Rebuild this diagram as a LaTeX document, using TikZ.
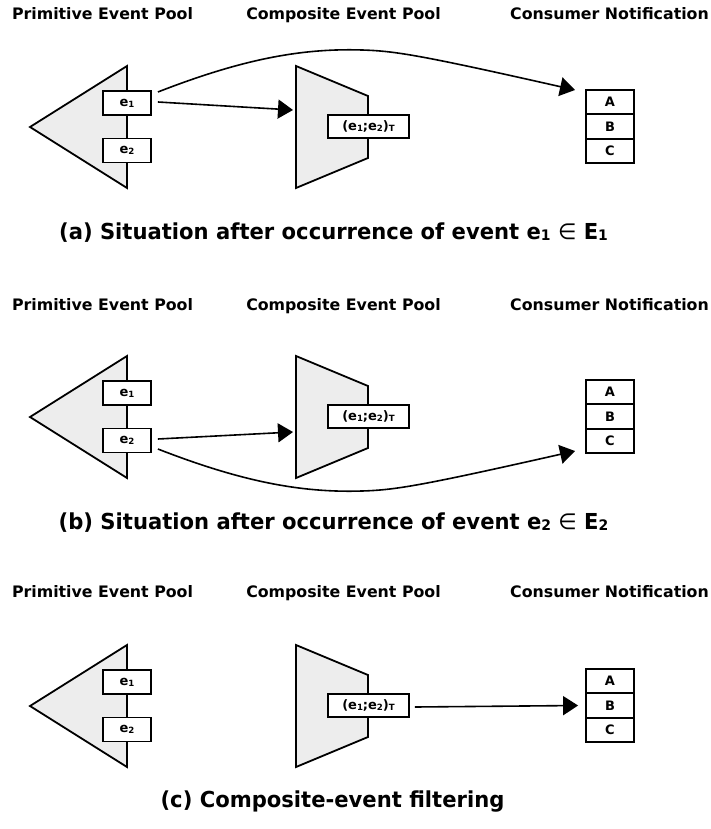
\documentclass[tikz,border=0pt]{standalone}
\usepackage{fontspec}
\setmainfont{DejaVu Sans}
\newfontfamily\capfont[FakeStretch=0.96]{DejaVu Sans}
\usetikzlibrary{arrows.meta}
\definecolor{poolgray}{HTML}{EDEDED}

% small index set on the baseline, as in e1 or T
\newcommand\lowidx[1]{\raisebox{-0.06em}{\scalebox{0.66}{#1}}}

% one row of the figure: pools, event boxes and the consumer queue
% #1 name prefix, #2 vertical offset of the shapes, #3 baseline of the headers
\newcommand\eventpanel[3]{%
  \node[header] (#1-hp) at (102.5,#3) {Primitive Event Pool};
  \node[header] (#1-hc) at (343.5,#3) {Composite Event Pool};
  \node[header] (#1-hn) at (609.5,#3) {Consumer Notification};
  \begin{scope}[shift={(0,#2)}]
    \filldraw[pool] (127,66) -- (30,127) -- (127,188) -- cycle;
    \filldraw[pool] (296,66) -- (368,96) -- (368,158) -- (296,188) -- cycle;
    \node[evbox] (#1-e1) at (127,103) {e\lowidx{1}};
    \node[evbox] (#1-e2) at (127,150.5) {e\lowidx{2}};
    \node[seqbox] (#1-seq) at (368.5,126.5) {(e\lowidx{1};e\lowidx{2})\lowidx{T}};
    \node[qbox] (#1-A) at (610,102) {A};
    \node[qbox] (#1-B) at (610,126.5) {B};
    \node[qbox] (#1-C) at (610,151) {C};
  \end{scope}
}

\begin{document}
\begin{tikzpicture}[x=1pt,y=-1pt,
  header/.style={anchor=base,inner sep=0pt,font=\bfseries\fontsize{15.8}{18}\selectfont},
  caption/.style={anchor=base,inner sep=0pt,font=\capfont\bfseries\fontsize{22}{26}\selectfont},
  pool/.style={fill=poolgray,draw=black,line width=1.8pt,line join=miter},
  evbox/.style={draw=black,fill=white,line width=1.8pt,minimum width=48pt,minimum height=24pt,
    inner sep=0pt,font=\bfseries\fontsize{13}{15}\selectfont},
  seqbox/.style={evbox,minimum width=81pt,minimum height=23pt},
  qbox/.style={evbox,minimum height=24.5pt},
  conn/.style={-{Triangle[length=15pt,width=19pt]},line width=1.6pt}]

\useasboundingbox (0,0) rectangle (710,829);

% (a) after e1
\eventpanel{a}{0}{20}
\coordinate (a-in) at (293,110);
\coordinate (a-top) at (362,50);
\coordinate (a-tip) at (575,90);
\draw[conn] ([xshift=6pt,yshift=1pt]a-e1.east) -- (a-in);
\draw[conn] ([xshift=6pt,yshift=11pt]a-e1.east) .. controls (240,60) and (300,48) .. (a-top)
  .. controls (395,51) and (420,55) .. (a-tip);
\node[caption] (a-cap) at (333.5,239) {(a) Situation after occurrence of event e\lowidx{1} {\mdseries ∈} E\lowidx{1}};

% (b) after e2
\eventpanel{b}{290}{310}
\coordinate (b-in) at (293,432);
\coordinate (b-bot) at (362,491);
\coordinate (b-tip) at (575,451);
\draw[conn] ([xshift=6pt,yshift=1.5pt]b-e2.east) -- (b-in);
\draw[conn] ([xshift=6pt,yshift=-8.5pt]b-e2.east) .. controls (240,481) and (300,493) .. (b-bot)
  .. controls (395,490) and (420,486) .. (b-tip);
\node[caption] (b-cap) at (333.5,529) {(b) Situation after occurrence of event e\lowidx{2} {\mdseries ∈} E\lowidx{2}};

% (c) composite-event filtering
\eventpanel{c}{579}{597}
\draw[conn] ([xshift=5pt,yshift=-1.5pt]c-seq.east) -- ([xshift=-7pt]c-B.west);
\node[caption] (c-cap) at (332.5,807) {(c) Composite-event filtering};

\end{tikzpicture}
\end{document}
